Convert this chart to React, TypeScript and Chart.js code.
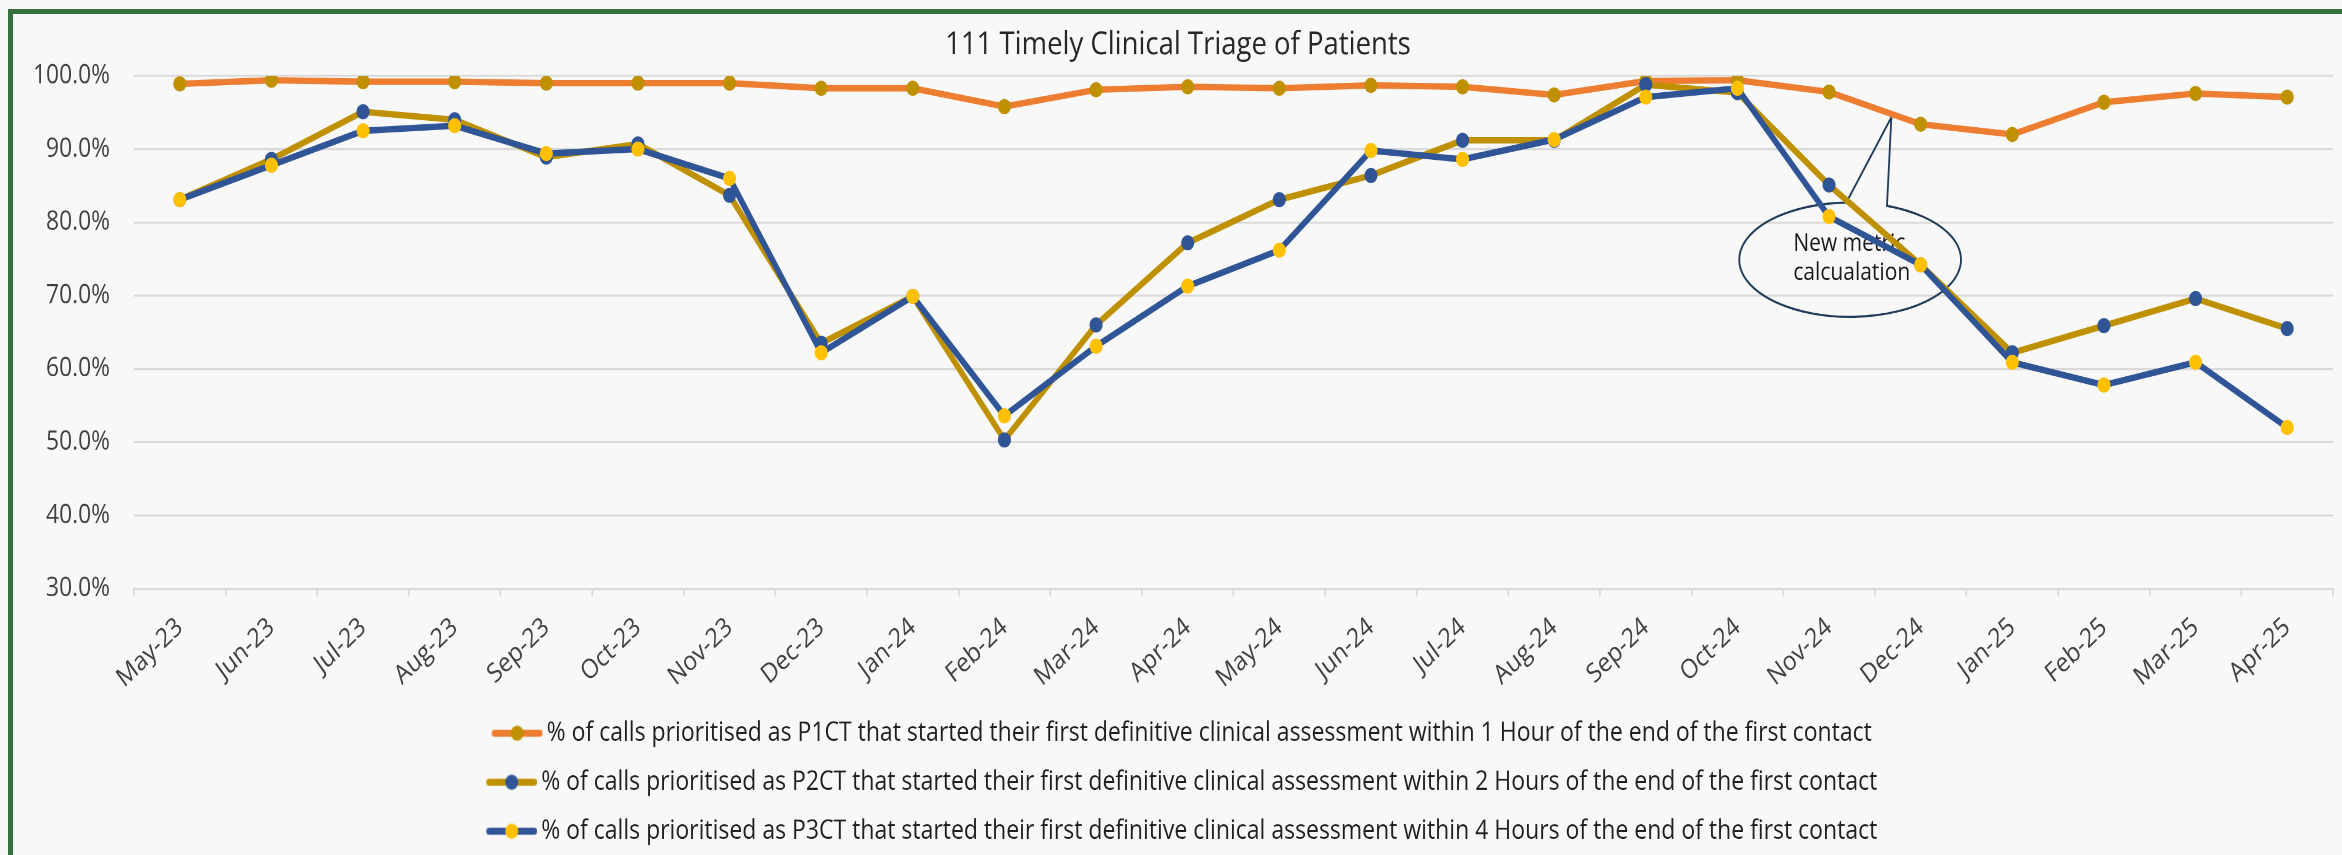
import React, { useEffect, useRef } from 'react';
import { Chart, registerables } from 'chart.js';

Chart.register(...registerables);

// ---------- data ----------
const months = [
  'May-23', 'Jun-23', 'Jul-23', 'Aug-23', 'Sep-23', 'Oct-23', 'Nov-23', 'Dec-23',
  'Jan-24', 'Feb-24', 'Mar-24', 'Apr-24', 'May-24', 'Jun-24', 'Jul-24', 'Aug-24',
  'Sep-24', 'Oct-24', 'Nov-24', 'Dec-24', 'Jan-25', 'Feb-25', 'Mar-25', 'Apr-25',
];

const p1ct = [
  98.9, 99.4, 99.2, 99.2, 99.0, 99.0, 99.0, 98.3, 98.3, 95.8, 98.1, 98.5,
  98.3, 98.7, 98.5, 97.4, 99.3, 99.4, 97.8, 93.4, 92.0, 96.4, 97.6, 97.1,
];

const p2ct = [
  83.1, 88.6, 95.1, 94.0, 88.9, 90.7, 83.7, 63.5, 69.9, 50.3, 66.0, 77.2,
  83.1, 86.4, 91.2, 91.2, 98.8, 97.7, 85.1, 74.2, 62.2, 65.9, 69.6, 65.5,
];

const p3ct = [
  83.1, 87.8, 92.5, 93.2, 89.4, 90.0, 86.0, 62.2, 69.9, 53.6, 63.1, 71.3,
  76.2, 89.8, 88.6, 91.3, 97.1, 98.3, 80.8, 74.2, 60.9, 57.8, 60.9, 52.0,
];

const yTickValues = [30, 40, 50, 60, 70, 80, 90, 100];

const seriesLabels = [
  '% of calls prioritised as P1CT that started their first definitive clinical assessment within 1 Hour of the end of the first contact',
  '% of calls prioritised as P2CT that started their first definitive clinical assessment within 2 Hours of the end of the first contact',
  '% of calls prioritised as P3CT that started their first definitive clinical assessment within 4 Hours of the end of the first contact',
];

const titleText = '111 Timely Clinical Triage of Patients';
const noteLines = ['New metric', 'calcualation'];

// ---------- styling / layout ----------
const FONT = "'Open Sans', 'Noto Sans', sans-serif";
const STRETCH = 1.165; // vertical stretch of the reference picture
const CW = 2329;
const CH = 722.5;
const PAD_LEFT = 10;
const Y_AXIS_WIDTH = 111;
const X_AXIS_TRIM = 10.3;

const lineColors = ['#ED7D31', '#BF9000', '#2F5597'];
const dotColors = ['#BF9000', '#2F5597', '#FFC000'];

// annotation placed in data units (category index / percent)
const NOTE = {
  cx: 18.23, cy: 74.9, rx: 1.21, ry: 7.8,
  tipX: 18.68, tipY: 94.35,
  startDeg: -70.6, endDeg: -92,
  textX: 17.61, lineY: [77.1, 73.1],
};

function legendMarker(lineColor: string, dotColor: string) {
  const c = document.createElement('canvas');
  c.width = 66;
  c.height = 16;
  const g = c.getContext('2d')!;
  g.strokeStyle = lineColor;
  g.lineWidth = 6;
  g.lineCap = 'round';
  g.beginPath();
  g.moveTo(18, 8);
  g.lineTo(63, 8);
  g.stroke();
  g.fillStyle = dotColor;
  g.beginPath();
  g.arc(40.5, 8, 6.5, 0, Math.PI * 2);
  g.fill();
  return c;
}

const notePlugin = {
  id: 'note',
  beforeDatasetsDraw(chart: any) {
    const { ctx } = chart;
    const x = chart.scales.x;
    const y = chart.scales.y;
    const cx = x.getPixelForValue(NOTE.cx);
    const cy = y.getPixelForValue(NOTE.cy);
    const rx = x.getPixelForValue(NOTE.cx + NOTE.rx) - cx;
    const ry = y.getPixelForValue(NOTE.cy - NOTE.ry) - cy;
    const a1 = (NOTE.startDeg * Math.PI) / 180;
    const a2 = ((NOTE.endDeg + 360) * Math.PI) / 180;
    ctx.save();
    ctx.beginPath();
    ctx.ellipse(cx, cy, rx, ry, 0, a1, a2, false);
    ctx.lineTo(x.getPixelForValue(NOTE.tipX), y.getPixelForValue(NOTE.tipY));
    ctx.closePath();
    ctx.strokeStyle = '#203A58';
    ctx.lineWidth = 1.8;
    ctx.stroke();
    ctx.fillStyle = '#1a1a1a';
    ctx.font = `21px ${FONT}`;
    ctx.textAlign = 'left';
    ctx.textBaseline = 'middle';
    noteLines.forEach((t, i) => {
      ctx.fillText(t, x.getPixelForValue(NOTE.textX), y.getPixelForValue(NOTE.lineY[i]));
    });
    ctx.restore();
  },
};

export default function App() {
  const ref = useRef<HTMLCanvasElement | null>(null);

  useEffect(() => {
    document.body.style.margin = '0';
    document.body.style.background = '#F8F8F8';
    const canvas = ref.current;
    if (!canvas) return;
    const markers = lineColors.map((c, i) => legendMarker(c, dotColors[i]));
    const series = [p1ct, p2ct, p3ct];
    const chart = new Chart(canvas, {
      type: 'line',
      data: {
        labels: months,
        datasets: series.map((d, i) => ({
          label: seriesLabels[i],
          data: d,
          borderColor: lineColors[i],
          backgroundColor: dotColors[i],
          pointBackgroundColor: dotColors[i],
          pointBorderColor: dotColors[i],
          pointBorderWidth: 0,
          pointRadius: 6.5,
          borderWidth: 5.5,
          tension: 0,
          fill: false,
          order: 3 - i,
        })),
      },
      options: {
        animation: false,
        responsive: false,
        devicePixelRatio: 2,
        events: [],
        layout: { padding: { left: PAD_LEFT, right: 9, top: 0, bottom: 0 } },
        plugins: {
          title: {
            display: true,
            text: titleText,
            color: '#262626',
            font: { family: FONT, size: 27.5, weight: 'normal', lineHeight: 1.2 },
            padding: { top: 10, bottom: 10 },
          },
          legend: {
            display: true,
            position: 'bottom',
            labels: {
              usePointStyle: true,
              pointStyleWidth: 51,
              padding: 19,
              color: '#1f1f1f',
              font: { family: FONT, size: 23 },
              sort: (a: any, b: any) => a.datasetIndex - b.datasetIndex,
              generateLabels: (ch: any) =>
                ch.data.datasets.map((ds: any, i: number) => ({
                  text: ds.label,
                  pointStyle: markers[i],
                  fillStyle: 'rgba(0,0,0,0)',
                  strokeStyle: 'rgba(0,0,0,0)',
                  lineWidth: 0,
                  hidden: false,
                  datasetIndex: i,
                  fontColor: '#1f1f1f',
                })),
            },
          },
          tooltip: { enabled: false },
        },
        scales: {
          x: {
            offset: true,
            afterFit: (s: any) => {
              s.height -= X_AXIS_TRIM;
              s.paddingLeft = 0;
              s.paddingRight = 0;
            },
            grid: {
              offset: true,
              drawOnChartArea: false,
              drawTicks: true,
              tickLength: 6.6,
              color: '#D9D9D9',
              lineWidth: 1.7,
            },
            border: { display: true, color: '#D9D9D9', width: 1.7 },
            ticks: {
              autoSkip: false,
              minRotation: 40,
              maxRotation: 40,
              padding: 13,
              color: '#404040',
              font: { family: FONT, size: 22.8 },
            },
          },
          y: {
            min: yTickValues[0],
            max: yTickValues[yTickValues.length - 1],
            afterBuildTicks: (axis: any) => {
              axis.ticks = yTickValues.map((v) => ({ value: v }));
            },
            afterFit: (s: any) => {
              s.width = Y_AXIS_WIDTH;
            },
            grid: { drawTicks: false, color: '#D9D9D9', lineWidth: 1.7 },
            border: { display: false },
            ticks: {
              padding: 24,
              color: '#404040',
              font: { family: FONT, size: 22.8 },
              callback: (v: any) => Number(v).toFixed(1) + '%',
            },
          },
        },
      },
      plugins: [notePlugin],
    } as any);
    return () => chart.destroy();
  }, []);

  return (
    <div
      style={{
        position: 'relative',
        width: 2342,
        height: 855,
        overflow: 'hidden',
        background: '#F8F8F8',
      }}
    >
      <div
        style={{
          position: 'absolute',
          left: 8,
          top: 9,
          right: -20,
          bottom: -20,
          borderTop: '5px solid #36703F',
          borderLeft: '5px solid #36703F',
        }}
      />
      <div
        style={{
          position: 'absolute',
          left: 13,
          top: 14,
          width: CW,
          height: CH,
          transform: `scale(1, ${STRETCH})`,
          transformOrigin: '0 0',
        }}
      >
        <canvas ref={ref} width={CW} height={CH} style={{ width: CW, height: CH, display: 'block' }} />
      </div>
    </div>
  );
}
